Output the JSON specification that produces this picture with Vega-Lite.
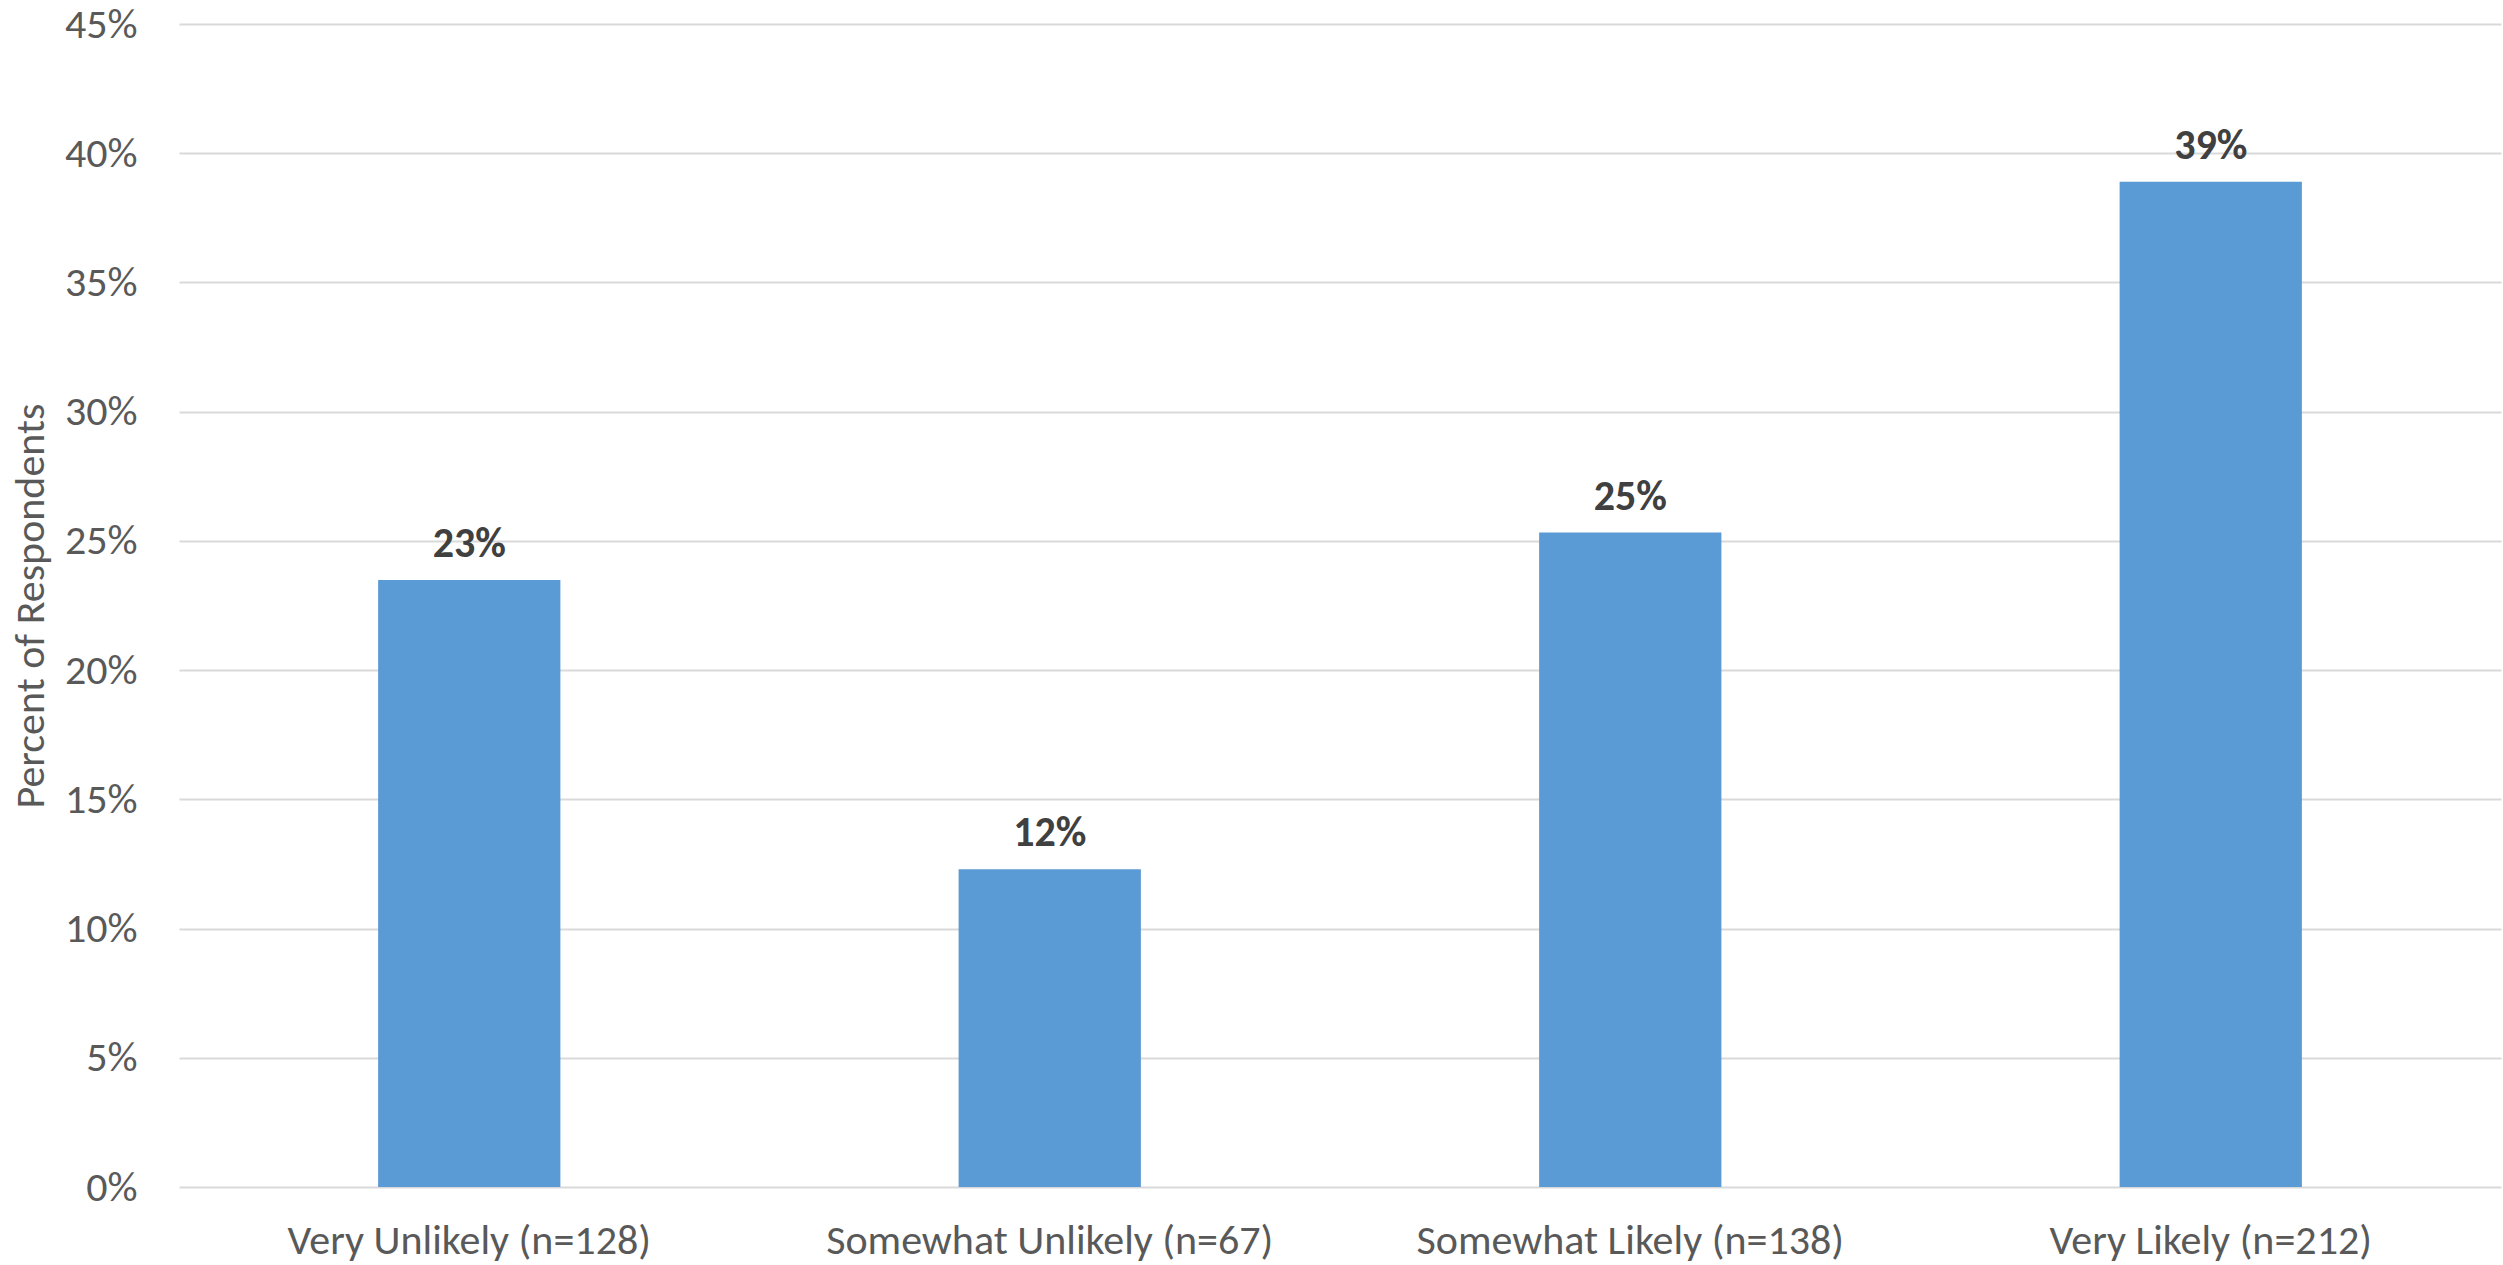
{
  "$schema": "https://vega.github.io/schema/vega-lite/v6.json",
  "autosize": {"type": "none"},
  "width": 2322,
  "height": 1163,
  "padding": {"left": 179, "top": 24, "right": 2, "bottom": 78},
  "background": "white",
  "config": {
    "view": {"stroke": null},
    "font": "Carlito, Lato, sans-serif"
  },
  "data": {
    "values": [
      {"category": "Very Unlikely (n=128)", "pct": 0.2349, "label": "23%"},
      {"category": "Somewhat Unlikely (n=67)", "pct": 0.1229, "label": "12%"},
      {"category": "Somewhat Likely (n=138)", "pct": 0.2532, "label": "25%"},
      {"category": "Very Likely (n=212)", "pct": 0.3890, "label": "39%"}
    ]
  },
  "encoding": {
    "x": {
      "field": "category",
      "type": "nominal",
      "sort": null,
      "scale": {"paddingInner": 0.686, "paddingOuter": 0.343},
      "axis": {
        "title": null,
        "labelAngle": 0,
        "domain": false,
        "ticks": false,
        "labelFontSize": 42,
        "labelLimit": 0,
        "labelColor": "#595959",
        "labelPadding": 33,
        "labelFont": "Carlito, Lato, sans-serif"
      }
    },
    "y": {
      "field": "pct",
      "type": "quantitative",
      "scale": {"domain": [0, 0.45], "nice": false},
      "axis": {
        "title": "Percent of Respondents",
        "values": [0, 0.05, 0.1, 0.15, 0.2, 0.25, 0.3, 0.35, 0.4, 0.45],
        "format": ".0%",
        "domain": false,
        "ticks": false,
        "labelFontSize": 42,
        "labelColor": "#595959",
        "labelPadding": 42,
        "titleFontSize": 42,
        "titleFontWeight": "normal",
        "titleColor": "#595959",
        "titlePadding": 12,
        "gridColor": "#D9D9D9",
        "gridWidth": 2,
        "labelFont": "Carlito, Lato, sans-serif",
        "titleFont": "Carlito, Lato, sans-serif"
      }
    }
  },
  "layer": [
    {"mark": {"type": "bar", "color": "#5B9BD5"}},
    {
      "mark": {
        "type": "text",
        "baseline": "alphabetic",
        "dy": -23,
        "fontSize": 42,
        "fontWeight": "bold",
        "color": "#404040",
        "font": "Carlito, Lato, sans-serif"
      },
      "encoding": {"text": {"field": "label"}}
    }
  ]
}
